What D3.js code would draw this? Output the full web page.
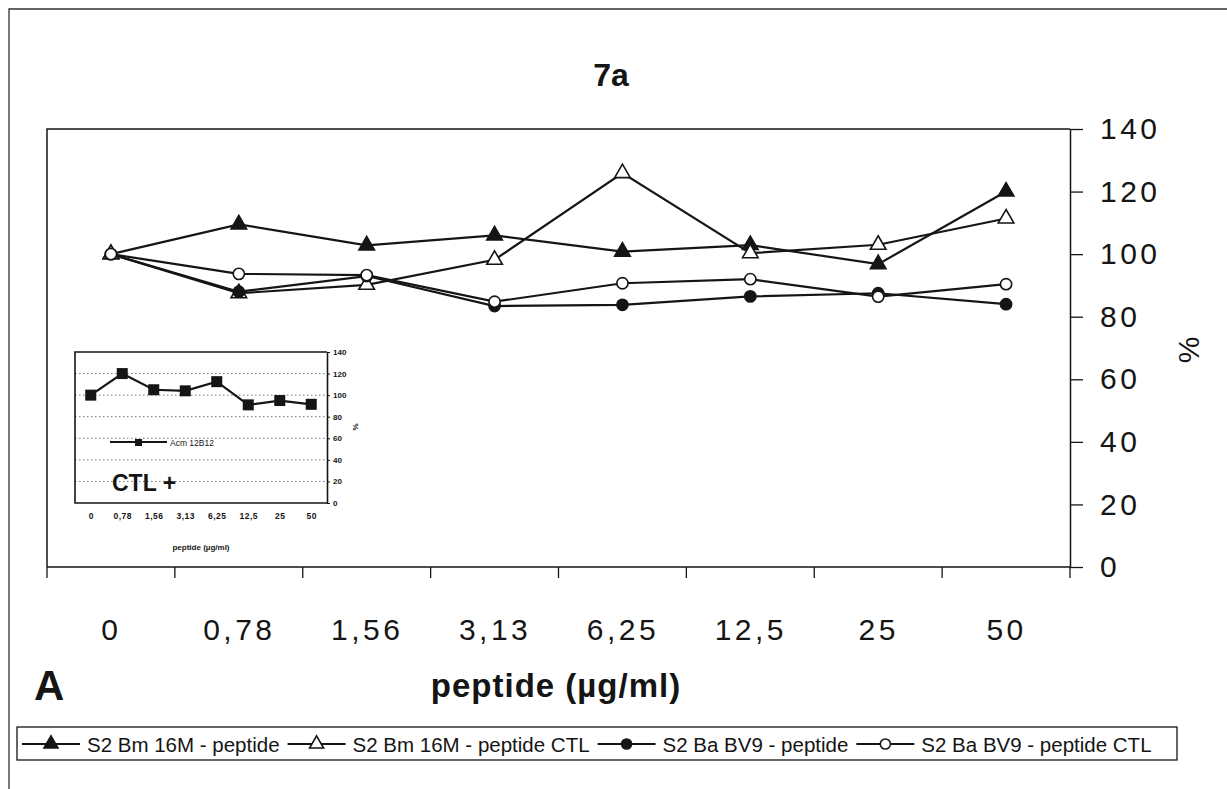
<!DOCTYPE html>
<html>
<head>
<meta charset="utf-8">
<script src="https://cdn.jsdelivr.net/npm/d3@7"></script>
<style>
  html, body { margin: 0; padding: 0; background: #fff; }
  svg { display: block; font-family: "Liberation Sans", Arial, Helvetica, sans-serif; }
</style>
</head>
<body>
<svg id="chart" width="1227" height="789"></svg>
<script>
// ---- data ----
const categories = ["0", "0,78", "1,56", "3,13", "6,25", "12,5", "25", "50"];
const yTicks = [0, 20, 40, 60, 80, 100, 120, 140];
const seriesNames = [
  "S2 Bm 16M - peptide",
  "S2 Bm 16M - peptide CTL",
  "S2 Ba BV9 - peptide",
  "S2 Ba BV9 - peptide CTL"
];
const bm16mPeptide    = [100, 109.5, 102.8, 106.0, 100.8, 102.9, 96.8, 120.0];
const bm16mPeptideCTL = [100, 87.5, 90.2, 98.2, 125.9, 100.3, 103.0, 111.4];
const baBV9Peptide    = [100, 88.0, 93.0, 83.4, 83.8, 86.5, 87.5, 84.0];
const baBV9PeptideCTL = [100, 93.7, 93.3, 84.8, 90.7, 92.0, 86.4, 90.4];
const insetName = "Acm 12B12";
const acm12B12 = [100, 120, 105, 104, 112.5, 91, 95, 91.5];

const markers = ["triangleFilled", "triangleOpen", "circleFilled", "circleOpen"];
const seriesValues = [bm16mPeptide, bm16mPeptideCTL, baBV9Peptide, baBV9PeptideCTL];

// ---- drawing ----
const svg = d3.select("#chart");
const ink = "#151515";

// outer figure border
svg.append("path").attr("d", "M9,789V9H1227").attr("fill", "none").attr("stroke", "#333").attr("stroke-width", 1.3);

const plot = { left: 47, right: 1070, top: 129, bottom: 567 };
const x = d3.scalePoint().domain(categories).range([plot.left, plot.right]).padding(0.5);
const xb = d3.scaleBand().domain(categories).range([plot.left, plot.right]);
const y = d3.scaleLinear().domain([0, 140]).range([plot.bottom, plot.top]);

// frame (top + left)
svg.append("path")
  .attr("d", `M${plot.left},${y(0)}V${y(140)}H${plot.right}`)
  .attr("fill", "none").attr("stroke", ink).attr("stroke-width", 1.5);

// right y axis
const yAxis = svg.append("g").attr("transform", `translate(${plot.right},0)`)
  .call(d3.axisRight(y).tickValues(yTicks).tickSize(13).tickSizeOuter(0).tickPadding(17));
yAxis.select(".domain").attr("stroke", ink).attr("stroke-width", 1.5);
yAxis.selectAll(".tick line").attr("stroke", ink).attr("stroke-width", 1.3);
yAxis.selectAll("text").attr("font-size", 30).attr("letter-spacing", 3.5).attr("fill", ink);

// x axis line + ticks at band boundaries
const xAxisG = svg.append("g").attr("transform", `translate(0,${plot.bottom})`);
xAxisG.append("line").attr("x1", plot.left).attr("x2", plot.right).attr("stroke", ink).attr("stroke-width", 1.5);
const boundaries = categories.map(c => xb(c)).concat([xb.range()[1]]);
xAxisG.selectAll("line.tk").data(boundaries).join("line").attr("class", "tk")
  .attr("x1", d => d).attr("x2", d => d).attr("y1", 0).attr("y2", 11)
  .attr("stroke", ink).attr("stroke-width", 1.3);
const xLab = xAxisG.append("g").call(d3.axisBottom(x).tickSize(0).tickPadding(52));
xLab.select(".domain").remove();
xLab.selectAll("text").attr("font-size", 30).attr("letter-spacing", 3.5).attr("fill", ink);

// titles
svg.append("text").attr("x", 611).attr("y", 86).attr("text-anchor", "middle")
  .attr("font-size", 32).attr("font-weight", "bold").attr("fill", ink).text("7a");
svg.append("text").attr("x", 34).attr("y", 700)
  .attr("font-size", 42).attr("font-weight", "bold").attr("fill", ink).text("A");
svg.append("text").attr("x", 556).attr("y", 697).attr("text-anchor", "middle")
  .attr("font-size", 33).attr("font-weight", "bold").attr("letter-spacing", 1).attr("fill", ink).text("peptide (µg/ml)");
svg.append("text").attr("transform", "translate(1199,350) rotate(-90)").attr("text-anchor", "middle")
  .attr("font-size", 30).attr("fill", ink).text("%");

// marker drawing helper
function drawMarker(sel, type, scale) {
  const s = scale || 1;
  if (type.startsWith("triangle")) {
    sel.append("path")
      .attr("d", d3.symbol(d3.symbolTriangle, 105 * s * s)())
      .attr("fill", type === "triangleFilled" ? ink : "#fff")
      .attr("stroke", ink).attr("stroke-width", 1.6);
  } else {
    sel.append("circle").attr("r", 5.6 * s)
      .attr("fill", type === "circleFilled" ? ink : "#fff")
      .attr("stroke", ink).attr("stroke-width", 1.6);
  }
}

// series
const line = d3.line().x(d => x(d.c)).y(d => y(d.v));
seriesValues.forEach((vals, i) => {
  const pts = vals.map((v, j) => ({ c: categories[j], v }));
  const g = svg.append("g");
  g.append("path").attr("d", line(pts)).attr("fill", "none").attr("stroke", ink).attr("stroke-width", 2.2);
  g.selectAll("g.m").data(pts).join("g").attr("class", "m")
    .attr("transform", d => `translate(${x(d.c)},${y(d.v)})`)
    .each(function () { drawMarker(d3.select(this), markers[i], 1); });
});

// ---- inset ----
const ip = { left: 75, right: 327, top: 352, bottom: 503 };
const ix = d3.scalePoint().domain(categories).range([ip.left, ip.right]).padding(0.5);
const iy = d3.scaleLinear().domain([0, 140]).range([ip.bottom, ip.top]);
const inset = svg.append("g");
inset.selectAll("line.grid").data(yTicks.filter(t => t > 0 && t < 140)).join("line").attr("class", "grid")
  .attr("x1", ip.left).attr("x2", ip.right).attr("y1", d => iy(d)).attr("y2", d => iy(d))
  .attr("stroke", "#777").attr("stroke-width", 1).attr("stroke-dasharray", "1.5,2.5");
inset.append("path").attr("d", `M${ip.right},${iy(140)}H${ip.left}V${iy(0)}H${ip.right}`)
  .attr("fill", "none").attr("stroke", ink).attr("stroke-width", 1.6);
const iyAxis = inset.append("g").attr("transform", `translate(${ip.right},0)`)
  .call(d3.axisRight(iy).tickValues(yTicks).tickSize(3).tickSizeOuter(0).tickPadding(3));
iyAxis.select(".domain").attr("stroke", ink).attr("stroke-width", 1.6);
iyAxis.selectAll(".tick line").attr("stroke", ink);
iyAxis.selectAll("text").attr("font-size", 8).attr("font-weight", "bold").attr("fill", ink);
const ixAxis = inset.append("g").attr("transform", `translate(0,${ip.bottom})`)
  .call(d3.axisBottom(ix).tickSize(0).tickPadding(10));
ixAxis.select(".domain").remove();
ixAxis.selectAll("text").attr("font-size", 8.5).attr("font-weight", "bold").attr("letter-spacing", 0.5).attr("fill", ink);
inset.append("text").attr("x", (ip.left + ip.right) / 2).attr("y", 550).attr("text-anchor", "middle")
  .attr("font-size", 8).attr("font-weight", "bold").attr("fill", ink).text("peptide (µg/ml)");
inset.append("text").attr("transform", "translate(358,427) rotate(-90)").attr("text-anchor", "middle")
  .attr("font-size", 8).attr("font-weight", "bold").attr("fill", ink).text("%");

const ipts = acm12B12.map((v, j) => ({ c: categories[j], v }));
inset.append("path").attr("d", d3.line().x(d => ix(d.c)).y(d => iy(d.v))(ipts))
  .attr("fill", "none").attr("stroke", ink).attr("stroke-width", 2.2);
inset.selectAll("rect.m").data(ipts).join("rect").attr("class", "m")
  .attr("x", d => ix(d.c) - 5.5).attr("y", d => iy(d.v) - 5.5).attr("width", 11).attr("height", 11)
  .attr("fill", ink);
// inset legend
inset.append("line").attr("x1", 110).attr("x2", 167).attr("y1", 442).attr("y2", 442).attr("stroke", ink).attr("stroke-width", 1.8);
inset.append("rect").attr("x", 135).attr("y", 439).attr("width", 7).attr("height", 7).attr("fill", ink);
inset.append("text").attr("x", 170).attr("y", 445.5).attr("font-size", 8.5).attr("fill", ink).text(insetName);
inset.append("text").attr("x", 112).attr("y", 491).attr("font-size", 23).attr("font-weight", "bold").attr("fill", ink).text("CTL +");

// ---- legend ----
const leg = svg.append("g");
leg.append("rect").attr("x", 17).attr("y", 727).attr("width", 1160).attr("height", 33)
  .attr("fill", "#fff").attr("stroke", ink).attr("stroke-width", 1.3);
let lx = 22;
seriesNames.forEach((name, i) => {
  const g = leg.append("g").attr("transform", `translate(${lx},744)`);
  g.append("line").attr("x1", 0).attr("x2", 58).attr("stroke", ink).attr("stroke-width", 2);
  const mg = g.append("g").attr("transform", "translate(29,0)");
  drawMarker(mg, markers[i], 0.9);
  const t = g.append("text").attr("x", 65).attr("y", 7.5).attr("font-size", 20.5).attr("fill", ink).text(name);
  lx += 65 + t.node().getComputedTextLength() + 8;
});
</script>
</body>
</html>
